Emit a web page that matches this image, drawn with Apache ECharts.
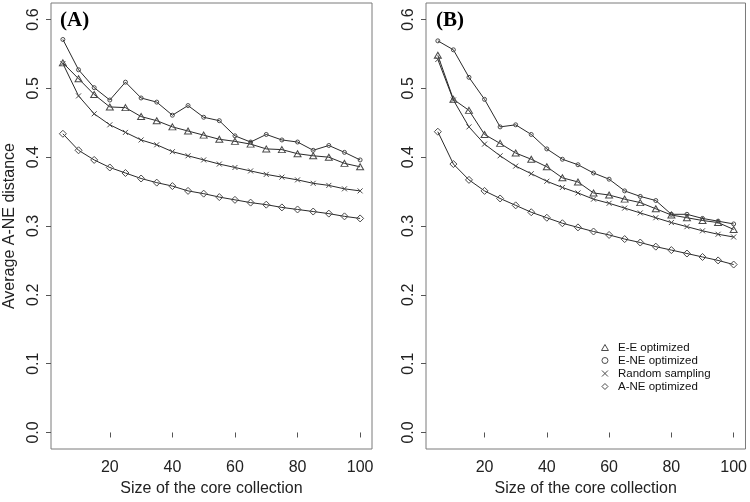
<!DOCTYPE html>
<html><head><meta charset="utf-8">
<script src="https://cdn.jsdelivr.net/npm/echarts@6/dist/echarts.min.js"></script>
<style>html,body{margin:0;padding:0;background:#fff}#c{width:750px;height:502px}</style>
</head><body><div id="c"></div>
<script>
// core collection sizes
const sizes = [5,10,15,20,25,30,35,40,45,50,55,60,65,70,75,80,85,90,95,100];
const xTicks = [20,40,60,80,100];
const yTicks = [0,0.1,0.2,0.3,0.4,0.5,0.6];
const seriesNames = ['E-E optimized','E-NE optimized','Random sampling','A-NE optimized'];
const panelLabels = ['(A)','(B)'];

// Panel A
const aEE  = [0.537,0.514,0.491,0.473,0.472,0.459,0.453,0.444,0.438,0.432,0.426,0.423,0.419,0.412,0.411,0.405,0.402,0.400,0.391,0.386];
const aENE = [0.571,0.527,0.501,0.483,0.509,0.486,0.480,0.461,0.475,0.458,0.453,0.431,0.422,0.433,0.425,0.422,0.410,0.417,0.407,0.396];
const aRand= [0.536,0.489,0.463,0.447,0.436,0.425,0.418,0.408,0.402,0.396,0.390,0.385,0.380,0.375,0.371,0.367,0.362,0.359,0.354,0.351];
const aANE = [0.434,0.410,0.396,0.385,0.377,0.369,0.363,0.358,0.351,0.347,0.342,0.338,0.334,0.331,0.327,0.324,0.321,0.318,0.314,0.311];

// Panel B
const bEE  = [0.548,0.484,0.468,0.433,0.420,0.406,0.397,0.386,0.370,0.364,0.348,0.345,0.339,0.334,0.325,0.316,0.312,0.308,0.305,0.295];
const bENE = [0.569,0.556,0.516,0.484,0.444,0.447,0.433,0.412,0.397,0.389,0.377,0.368,0.351,0.343,0.337,0.317,0.317,0.311,0.307,0.303];
const bRand= [0.542,0.483,0.444,0.419,0.402,0.387,0.376,0.365,0.356,0.348,0.339,0.333,0.326,0.319,0.312,0.305,0.299,0.293,0.288,0.284];
const bANE = [0.437,0.390,0.367,0.351,0.340,0.330,0.320,0.312,0.304,0.298,0.292,0.287,0.281,0.276,0.270,0.265,0.260,0.255,0.250,0.244];

const panels = [[aEE,aENE,aRand,aANE],[bEE,bENE,bRand,bANE]];

const symbols = [
  'path://M5,0L10,8.66L0,8.66Z',
  'circle',
  'path://M0,0L10,10M10,0L0,10',
  'path://M5,0L10,5L5,10L0,5Z'
];
const symSizes = [[7,6],4,5,7];
const legendSym = [
  'path://M5,0L10,8.66L0,8.66Z',
  'circle',
  'path://M0,0L10,10M10,0L0,10',
  'path://M5,0L10,5L5,10L0,5Z'
];

const FONT = 'Liberation Sans, Arial, sans-serif';
const grids = [
  {left:51, top:3, width:321, height:452},
  {left:426, top:3, width:322, height:452}
];

const xAxes = grids.map((g,i)=>({
  type:'value', gridIndex:i, min:1.2, max:103.8,
  splitLine:{show:false},
  axisLine:{show:false},
  axisTick:{show:true, inside:false, length:5, customValues:xTicks, lineStyle:{color:'#555',width:1}},
  axisLabel:{customValues:xTicks, margin:11, fontSize:16, fontFamily:FONT, color:'#222'},
  name:'Size of the core collection', nameLocation:'middle', nameGap:32,
  nameTextStyle:{fontSize:16, fontFamily:FONT, color:'#222'}
}));
const yAxes = grids.map((g,i)=>({
  type:'value', gridIndex:i, min:-0.024, max:0.624,
  splitLine:{show:false},
  axisLine:{show:false},
  axisTick:{show:true, inside:false, length:5, customValues:yTicks, lineStyle:{color:'#555',width:1}},
  axisLabel:{customValues:yTicks, rotate:90, margin:9, fontSize:16, fontFamily:FONT, color:'#222',
    formatter:v=>Number(v).toFixed(1)},
  name: i===0 ? 'Average A-NE distance' : '', nameLocation:'middle', nameGap:33,
  nameTextStyle:{fontSize:16, fontFamily:FONT, color:'#222'}
}));

const series = [];
panels.forEach((arrs,p)=>{
  arrs.forEach((arr,j)=>{
    series.push({
      type:'line', name:seriesNames[j], xAxisIndex:p, yAxisIndex:p,
      data: sizes.map((x,k)=>[x,arr[k]]),
      symbol:symbols[j], symbolSize:symSizes[j], showAllSymbol:true,
      lineStyle:{color:'#2a2a2a', width:1},
      itemStyle:{color:'transparent', borderColor:'#4a4a4a', borderWidth:1},
      emphasis:{disabled:true}, z: 2+j
    });
  });
});

const chart = echarts.init(document.getElementById('c'), null, {renderer:'canvas'});
chart.setOption({
  animation:false,
  backgroundColor:'#fff',
  grid: grids.map(g=>Object.assign({show:true, borderColor:'#7a7a7a', borderWidth:1, backgroundColor:'transparent'}, g)),
  title: panelLabels.map((t,i)=>({
    text:t, left: i===0?55:431, top:5,
    textStyle:{fontFamily:'Liberation Serif, Times New Roman, serif', fontWeight:'bold', fontSize:21, color:'#000'}
  })),
  legend:{
    orient:'vertical', left:596, top:336, itemGap:0, itemWidth:16, itemHeight:6,
    textStyle:{fontSize:11.5, fontFamily:FONT, color:'#111', lineHeight:13},
    data: seriesNames.map((n,j)=>({name:n, icon:legendSym[j],
      itemStyle:{color:'transparent', borderColor:'#4a4a4a', borderWidth:1}}))
  },
  xAxis:xAxes, yAxis:yAxes, series:series
});
</script></body></html>
